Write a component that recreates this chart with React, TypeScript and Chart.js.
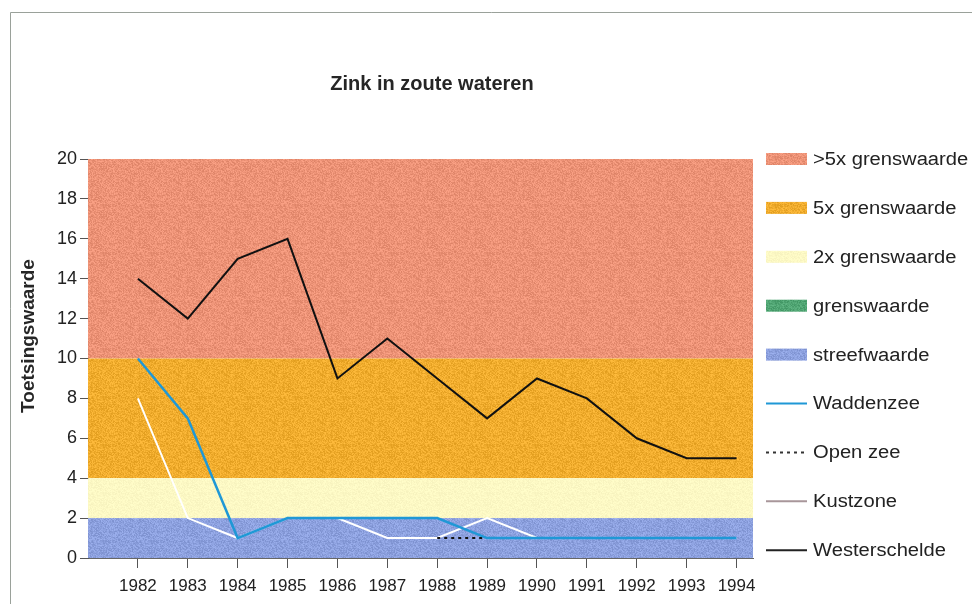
import React, { useEffect, useRef } from "react";
import { Chart, registerables } from "chart.js";

Chart.register(...registerables);

// ---- data ----
const title = "Zink in zoute wateren";
const yTitle = "Toetsingswaarde";
const years = [1982, 1983, 1984, 1985, 1986, 1987, 1988, 1989, 1990, 1991, 1992, 1993, 1994];
const yTicks = [0, 2, 4, 6, 8, 10, 12, 14, 16, 18, 20];

const bandNames = [">5x grenswaarde", "5x grenswaarde", "2x grenswaarde", "grenswaarde", "streefwaarde"];
const bandLower = [10, 4, 2, 2, 0];
const bandUpper = [20, 10, 4, 2, 2];

const waddenzee = [10, 7, 1, 2, 2, 2, 2, 1, 1, 1, 1, 1, 1];
const openZee = [null, null, null, null, null, null, 1, 1, 1, 1, 1, 1, 1];
const kustzone = [8, 2, 1, 2, 2, 1, 1, 2, 1, 1, 1, 1, 1];
const westerschelde = [14, 12, 15, 16, 9, 11, 9, 7, 9, 8, 6, 5, 5];

const lineNames = ["Waddenzee", "Open zee", "Kustzone", "Westerschelde"];

// ---- styles ----
const bandRGB: number[][] = [
  [236, 146, 118],
  [240, 172, 45],
  [252, 248, 196],
  [80, 165, 115],
  [140, 160, 222],
];
const lineColors = ["#1f98d6", "#111111", "#ffffff", "#111111"];
const lineLegendColors = ["#1f98d6", "#333333", "#a8969a", "#222222"];
const lineDashes: number[][] = [[], [3, 4], [], []];
const lineWidths = [2.5, 2, 2, 2];
const lineOrder = [2, 3, 4, 1];

const FONT = "'Liberation Sans', Arial, sans-serif";

function makePattern(rgb: number[], amp: number): CanvasPattern | string {
  const c = document.createElement("canvas");
  c.width = 48;
  c.height = 48;
  const ctx = c.getContext("2d");
  if (!ctx) return `rgb(${rgb.join(",")})`;
  const img = ctx.createImageData(48, 48);
  for (let j = 0; j < 48; j++) {
    for (let i = 0; i < 48; i++) {
      const s = Math.sin(i * 12.9898 + j * 78.233) * 43758.5453;
      const f = s - Math.floor(s);
      const d = (f - 0.5) * 2 * amp;
      const k = (j * 48 + i) * 4;
      img.data[k] = Math.max(0, Math.min(255, rgb[0] + d));
      img.data[k + 1] = Math.max(0, Math.min(255, rgb[1] + d));
      img.data[k + 2] = Math.max(0, Math.min(255, rgb[2] + d));
      img.data[k + 3] = 255;
    }
  }
  ctx.putImageData(img, 0, 0);
  const p = ctx.createPattern(c, "repeat");
  return p || `rgb(${rgb.join(",")})`;
}

export default function App() {
  const ref = useRef<HTMLCanvasElement | null>(null);

  useEffect(() => {
    document.body.style.margin = "0";
    const canvas = ref.current;
    if (!canvas) return;

    const patterns = bandRGB.map((c, i) => makePattern(c, i === 2 ? 6 : 16));

    const seriesValues = [waddenzee, openZee, kustzone, westerschelde];
    const datasets = seriesValues.map((vals, i) => ({
      label: lineNames[i],
      data: years.map((x, k) => ({ x, y: vals[k] })),
      borderColor: lineColors[i],
      backgroundColor: lineColors[i],
      borderWidth: lineWidths[i],
      borderDash: lineDashes[i],
      pointRadius: 0,
      tension: 0,
      fill: false,
      spanGaps: false,
      order: lineOrder[i],
      borderJoinStyle: "miter" as const,
    }));

    const decor = {
      id: "decor",
      beforeDraw(chart: any) {
        const ctx = chart.ctx;
        ctx.save();
        ctx.fillStyle = "#ffffff";
        ctx.fillRect(0, 0, chart.width, chart.height);
        ctx.strokeStyle = "#9aa19a";
        ctx.lineWidth = 1;
        ctx.beginPath();
        ctx.moveTo(10.5, chart.height);
        ctx.lineTo(10.5, 12.5);
        ctx.lineTo(chart.width, 12.5);
        ctx.stroke();
        ctx.restore();
      },
      beforeDatasetsDraw(chart: any) {
        const ctx = chart.ctx;
        const a = chart.chartArea;
        const y = chart.scales.y;
        ctx.save();
        bandNames.forEach((_, i) => {
          const top = y.getPixelForValue(bandUpper[i]);
          const bot = y.getPixelForValue(bandLower[i]);
          if (bot - top <= 0) return;
          ctx.fillStyle = patterns[i];
          ctx.fillRect(a.left, top, a.right - a.left, bot - top);
        });
        ctx.restore();
      },
      afterDraw(chart: any) {
        const ctx = chart.ctx;
        const a = chart.chartArea;
        ctx.save();
        // title
        ctx.fillStyle = "#262626";
        ctx.font = `bold 20px ${FONT}`;
        ctx.textAlign = "center";
        ctx.textBaseline = "middle";
        ctx.fillText(title, 432, 84);
        // y title
        ctx.save();
        ctx.translate(29, 336);
        ctx.rotate(-Math.PI / 2);
        ctx.font = `bold 19px ${FONT}`;
        ctx.fillText(yTitle, 0, 0);
        ctx.restore();
        // legend
        const x0 = 766;
        const w = 41;
        const rowY0 = 159;
        const rowGap = 48.9;
        const items: { name: string; kind: string; idx: number }[] = [];
        bandNames.forEach((n, i) => items.push({ name: n, kind: "band", idx: i }));
        lineNames.forEach((n, i) => items.push({ name: n, kind: "line", idx: i }));
        items.forEach((it, r) => {
          const cy = rowY0 + r * rowGap;
          if (it.kind === "band") {
            ctx.fillStyle = patterns[it.idx];
            ctx.fillRect(x0, cy - 6, w, 12);
          } else {
            ctx.strokeStyle = lineLegendColors[it.idx];
            ctx.lineWidth = 2;
            ctx.setLineDash(lineDashes[it.idx]);
            ctx.beginPath();
            ctx.moveTo(x0, cy);
            ctx.lineTo(x0 + w, cy);
            ctx.stroke();
            ctx.setLineDash([]);
          }
          ctx.save();
          ctx.translate(813, cy);
          ctx.scale(1.12, 1);
          ctx.fillStyle = "#222222";
          ctx.font = `18px ${FONT}`;
          ctx.textAlign = "left";
          ctx.textBaseline = "middle";
          ctx.fillText(it.name, 0, 1);
          ctx.restore();
        });
        ctx.restore();
      },
    };

    const chart = new Chart(canvas, {
      type: "line",
      data: { datasets: datasets as any },
      options: {
        animation: false,
        responsive: false,
        maintainAspectRatio: false,
        layout: { padding: { left: 30, right: 219, top: 159, bottom: 0 } },
        plugins: {
          legend: { display: false },
          title: { display: false },
          tooltip: { enabled: false },
        },
        scales: {
          x: {
            type: "linear",
            min: 1981,
            max: 1994.33,
            afterBuildTicks: (scale: any) => {
              scale.ticks = years.map((v) => ({ value: v }));
            },
            afterFit: (scale: any) => {
              scale.height = 46;
            },
            ticks: {
              color: "#222222",
              font: { family: FONT, size: 17 },
              padding: 8,
              maxRotation: 0,
              autoSkip: false,
              callback: (v: any) => String(v),
            },
            grid: {
              display: true,
              drawOnChartArea: false,
              drawTicks: true,
              tickLength: 10,
              color: "#555555",
            },
            border: { display: true, color: "#666666", width: 1 },
          },
          y: {
            type: "linear",
            min: 0,
            max: 20,
            afterBuildTicks: (scale: any) => {
              scale.ticks = yTicks.map((v) => ({ value: v }));
            },
            afterFit: (scale: any) => {
              scale.width = 58;
            },
            ticks: {
              color: "#222222",
              font: { family: FONT, size: 18 },
              padding: 3,
            },
            grid: {
              display: true,
              drawOnChartArea: false,
              drawTicks: true,
              tickLength: 8,
              color: "#555555",
            },
            border: { display: true, color: "#555555", width: 1 },
          },
        },
      },
      plugins: [decor],
    });

    return () => chart.destroy();
  }, []);

  return (
    <div style={{ width: 972, height: 604 }}>
      <canvas ref={ref} width={972} height={604} style={{ display: "block" }} />
    </div>
  );
}
